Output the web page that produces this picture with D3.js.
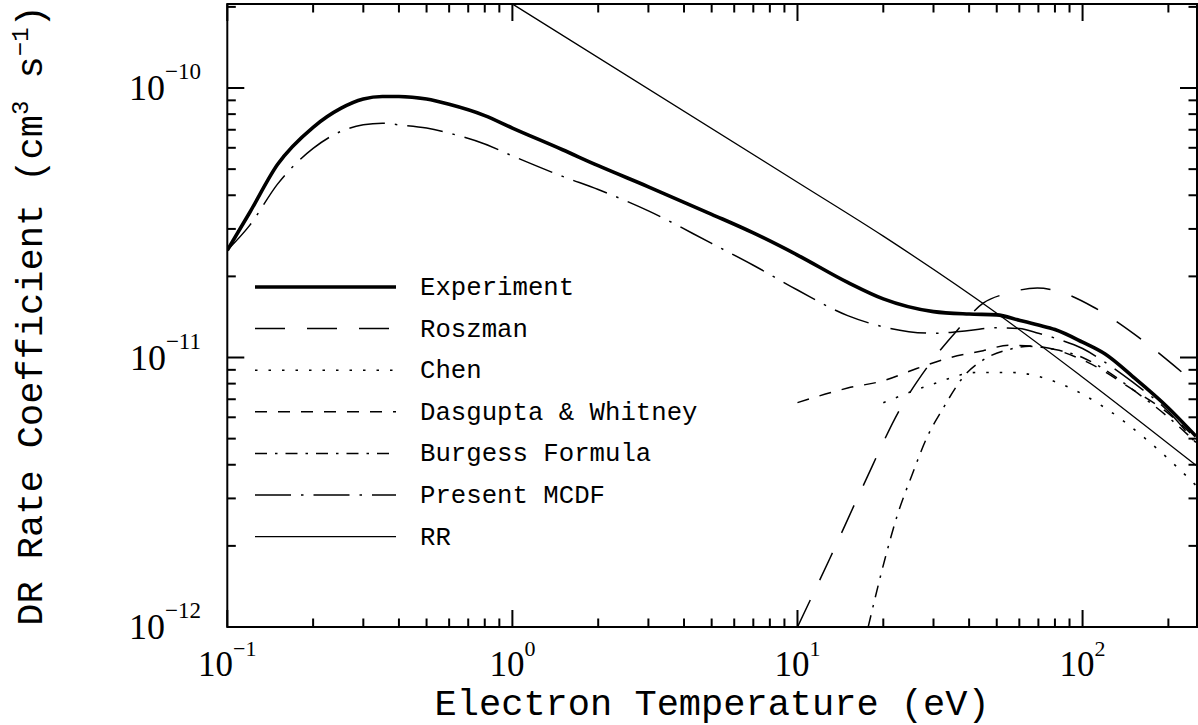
<!DOCTYPE html>
<html><head><meta charset="utf-8">
<script src="https://cdn.jsdelivr.net/npm/d3@7"></script>
<style>body{margin:0;background:#fff}svg{display:block}</style>
</head><body>
<svg id="c" width="1198" height="725"></svg>
<script>
// ---- data (electron temperature in eV, rate coefficient in cm^3 s^-1) ----
const experimentT = [0.1,0.12,0.15,0.2,0.25,0.3,0.35,0.4,0.5,0.6,0.8,1,1.5,2,3,5,7,10,15,20,30,40,50,60,70,80,100,120,150,200,250];
const experimentRate = [2.5e-11,3.46e-11,5.2e-11,7.15e-11,8.4e-11,9.1e-11,9.3e-11,9.3e-11,9.1e-11,8.7e-11,7.9e-11,7.1e-11,5.9e-11,5.15e-11,4.3e-11,3.4e-11,2.9e-11,2.4e-11,1.9e-11,1.65e-11,1.48e-11,1.45e-11,1.44e-11,1.375e-11,1.32e-11,1.27e-11,1.14e-11,1.03e-11,8.5e-12,6.5e-12,5.1e-12];

const roszmanT = [10,13,16.9,23.3,28.5,36.3,44.8,54.4,69.4,83.5,109,150.6,198,252];
const roszmanRate = [1e-12,1.8e-12,3.3e-12,6.65e-12,9.2e-12,1.26e-11,1.59e-11,1.73e-11,1.81e-11,1.75e-11,1.54e-11,1.23e-11,9.8e-12,7.9e-12];

const chenT = [20,29.2,42.7,55.7,83.5,118.7,164,214.6,250];
const chenRate = [6.8e-12,7.9e-12,8.8e-12,8.8e-12,8.0e-12,6.55e-12,5.06e-12,3.92e-12,3.35e-12];

const dasguptaT = [10,15,20,26.2,34.4,44.8,55,69.4,100,150,200,250];
const dasguptaRate = [6.8e-12,7.7e-12,8.2e-12,9.1e-12,1.0e-11,1.06e-11,1.11e-11,1.1e-11,9.8e-12,7.6e-12,6.2e-12,5.0e-12];

const burgessT = [17.7,20.3,22.3,25.2,28.7,32.2,38.1,46.3,55,65,80,100,120,150,200,252];
const burgessRate = [1e-12,1.8e-12,2.56e-12,3.66e-12,5.15e-12,6.4e-12,8.45e-12,1.0e-11,1.07e-11,1.1e-11,1.07e-11,1.0e-11,9.0e-12,7.6e-12,6.0e-12,4.8e-12];

const mcdfT = [0.1,0.12,0.15,0.2,0.25,0.3,0.35,0.4,0.5,0.6,0.8,1,1.5,2,3,5,7,10,15,20,30,40,50,60,70,80,100,120,150,200,250];
const mcdfRate = [2.5e-11,3.1e-11,4.4e-11,5.97e-11,6.9e-11,7.3e-11,7.4e-11,7.3e-11,7.1e-11,6.8e-11,6.2e-11,5.6e-11,4.7e-11,4.2e-11,3.5e-11,2.65e-11,2.2e-11,1.78e-11,1.43e-11,1.3e-11,1.23e-11,1.26e-11,1.29e-11,1.28e-11,1.23e-11,1.18e-11,1.08e-11,9.6e-12,8.1e-12,6.3e-12,4.8e-12];

const rrT = [1,10,20,50,100,250];
const rrRate = [2.05e-10,4.47e-11,2.82e-11,1.46e-11,8.45e-12,3.98e-12];

const seriesNames = ["Experiment","Roszman","Chen","Dasgupta & Whitney","Burgess Formula","Present MCDF","RR"];
const xTickExponents = [-1,0,1,2];
const yTickExponents = [-12,-11,-10];
const xTitle = "Electron Temperature (eV)";

// ---- layout ----
const svg = d3.select("#c");
const L = 227.3, R = 1197, T = 4, B = 627;
const x = d3.scaleLog().domain([0.1, 252]).range([L, R]);
const y = d3.scaleLog().domain([1e-12, 2.05e-10]).range([B, T]);

const styles = [
  {w:3.6, dash:null},
  {w:1.5, dash:"30 22"},
  {w:1.6, dash:"2.5 11"},
  {w:1.5, dash:"12 11"},
  {w:1.5, dash:"12 8 2.5 8"},
  {w:1.5, dash:"36 10 2.5 10"},
  {w:1.3, dash:null}
];
const data = [
  [experimentT, experimentRate],
  [roszmanT, roszmanRate],
  [chenT, chenRate],
  [dasguptaT, dasguptaRate],
  [burgessT, burgessRate],
  [mcdfT, mcdfRate],
  [rrT, rrRate]
];

svg.append("defs").append("clipPath").attr("id","clip")
  .append("rect").attr("x",L).attr("y",T).attr("width",R-L).attr("height",B-T);

const line = d3.line().x(d=>x(d[0])).y(d=>y(d[1])).curve(d3.curveMonotoneX);
const g = svg.append("g").attr("clip-path","url(#clip)");
data.forEach((s,i)=>{
  const pts = s[0].map((t,k)=>[t, s[1][k]]);
  g.append("path").attr("d", line(pts)).attr("fill","none").attr("stroke","#000")
    .attr("stroke-width", styles[i].w).attr("stroke-dasharray", styles[i].dash)
    .attr("stroke-linejoin","round");
});

// ---- frame & ticks ----
svg.append("rect").attr("x",L).attr("y",T).attr("width",R-L).attr("height",B-T)
  .attr("fill","none").attr("stroke","#000").attr("stroke-width",2);
const isMajor = v => Math.abs(Math.log10(v) - Math.round(Math.log10(v))) < 1e-9;
const tk = svg.append("g").attr("stroke","#000").attr("stroke-width",2);
x.ticks().filter(v=>v>=0.1 && v<=252).forEach(v=>{
  const len = isMajor(v) ? 17 : 8.5, px = x(v);
  tk.append("line").attr("x1",px).attr("x2",px).attr("y1",B).attr("y2",B-len);
  tk.append("line").attr("x1",px).attr("x2",px).attr("y1",T).attr("y2",T+len);
});
y.ticks().forEach(v=>{
  const len = isMajor(v) ? 17 : 8.5, py = y(v);
  tk.append("line").attr("x1",L).attr("x2",L+len).attr("y1",py).attr("y2",py);
  tk.append("line").attr("x1",R).attr("x2",R-len).attr("y1",py).attr("y2",py);
});

// ---- tick labels ----
const fSerif = "'Liberation Serif', 'DejaVu Serif', serif";
xTickExponents.forEach(e=>{
  const t = svg.append("text").attr("x", x(Math.pow(10,e))).attr("y", 676)
    .attr("text-anchor","middle").attr("font-family",fSerif).attr("font-size",35);
  t.append("tspan").text("10");
  t.append("tspan").attr("dy",-20).attr("font-size",22).text(e<0 ? "\u2212"+(-e) : String(e));
});
yTickExponents.forEach(e=>{
  const t = svg.append("text").attr("x", 201).attr("y", y(Math.pow(10,e))+12)
    .attr("text-anchor","end").attr("font-family",fSerif).attr("font-size",36);
  t.append("tspan").text("10");
  t.append("tspan").attr("dy",-21).attr("font-size",23).text("\u2212"+(-e));
});

// ---- axis titles ----
const fMono = "'Liberation Mono', 'DejaVu Sans Mono', monospace";
svg.append("text").attr("x",(L+R)/2).attr("y",715).attr("text-anchor","middle")
  .attr("font-family",fMono).attr("font-size",37).text(xTitle);
const yt = svg.append("text").attr("transform",`translate(42,${(T+B)/2}) rotate(-90)`)
  .attr("text-anchor","middle").attr("font-family",fMono).attr("font-size",37);
yt.append("tspan").text("DR Rate Coefficient (cm");
yt.append("tspan").attr("dy",-14).attr("font-size",24).text("3");
yt.append("tspan").attr("dy",14).text(" s");
yt.append("tspan").attr("dy",-14).attr("font-size",24).text("\u22121");
yt.append("tspan").attr("dy",14).text(")");

// ---- legend ----
seriesNames.forEach((n,i)=>{
  const ly = 287 + 41.6*i;
  svg.append("line").attr("x1",255).attr("x2",396).attr("y1",ly).attr("y2",ly)
    .attr("stroke","#000").attr("stroke-width",styles[i].w).attr("stroke-dasharray",styles[i].dash);
  svg.append("text").attr("x",420).attr("y",ly+8).attr("font-family",fMono)
    .attr("font-size",25.7).text(n);
});
</script>
</body></html>
